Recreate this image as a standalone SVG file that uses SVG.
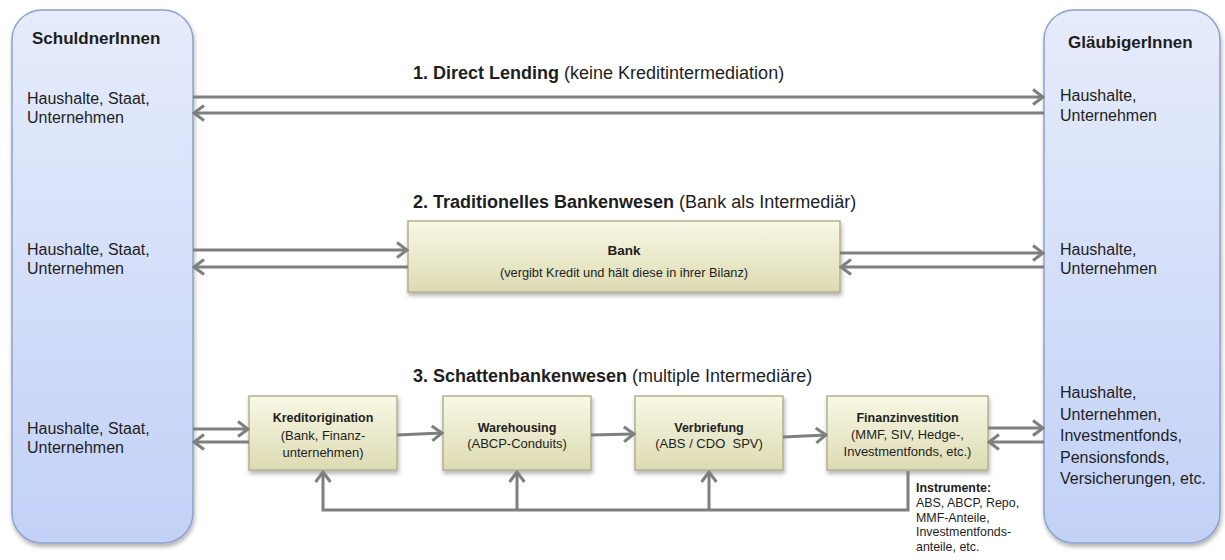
<svg xmlns="http://www.w3.org/2000/svg" width="1225" height="560" viewBox="0 0 1225 560">
<style>
text{font-family:"Liberation Sans",Arial,sans-serif;fill:#1e1e1e}
.big{font-size:16px}
.hdr{font-size:17px;font-weight:bold}
.ttl{font-size:18px}
.b{font-weight:bold}
.bx{font-size:13px;text-anchor:middle}
.bxb{font-size:12.5px;font-weight:bold;text-anchor:middle}
.ins{font-size:12.4px}
.party{fill:url(#gBlue);stroke:#8ea0cc;stroke-width:1.5;filter:url(#sh)}
.inter{fill:url(#gCream);stroke:#b3b18c;stroke-width:1.5;filter:url(#sh)}
.c{fill:none;stroke:#7f7f7f;stroke-width:3}
.a{marker-end:url(#arr)}
</style>
<defs>
<linearGradient id="gBlue" x1="0" y1="0" x2="0" y2="1">
<stop offset="0" stop-color="#e6ecfb"/>
<stop offset="1" stop-color="#c2d1f7"/>
</linearGradient>
<linearGradient id="gCream" x1="0" y1="0" x2="0" y2="1">
<stop offset="0" stop-color="#f8f8e6"/>
<stop offset="1" stop-color="#dddbb3"/>
</linearGradient>
<filter id="sh" x="-10%" y="-10%" width="130%" height="130%">
<feDropShadow dx="1" dy="3" stdDeviation="2" flood-color="#000" flood-opacity="0.3"/>
</filter>
<marker id="arr" viewBox="0 0 14 18" refX="12" refY="9" markerWidth="14" markerHeight="18" orient="auto" markerUnits="userSpaceOnUse">
<path d="M2,1.5 L12,9 L2,16.5" fill="none" stroke="#7f7f7f" stroke-width="3"/>
</marker>
</defs>

<g id="schuldner">
<rect class="party" x="12" y="10" width="181" height="533" rx="30" ry="30"/>
<text class="hdr" x="32" y="44">SchuldnerInnen</text>
<text class="big" x="27" y="103.5">Haushalte, Staat,</text>
<text class="big" x="27" y="122.5">Unternehmen</text>
<text class="big" x="27" y="254.5">Haushalte, Staat,</text>
<text class="big" x="27" y="273.5">Unternehmen</text>
<text class="big" x="27" y="433.5">Haushalte, Staat,</text>
<text class="big" x="27" y="452.5">Unternehmen</text>
</g>

<g id="glaeubiger">
<rect class="party" x="1044" y="10" width="176" height="533" rx="30" ry="30"/>
<text class="hdr" x="1068" y="48">GläubigerInnen</text>
<text class="big" x="1060" y="100.5">Haushalte,</text>
<text class="big" x="1060" y="120.5">Unternehmen</text>
<text class="big" x="1060" y="255">Haushalte,</text>
<text class="big" x="1060" y="274">Unternehmen</text>
<text class="big" x="1060" y="398">Haushalte,</text>
<text class="big" x="1060" y="419.5">Unternehmen,</text>
<text class="big" x="1060" y="441">Investmentfonds,</text>
<text class="big" x="1060" y="462.5">Pensionsfonds,</text>
<text class="big" x="1060" y="484">Versicherungen, etc.</text>
</g>

<g id="titles">
<text class="ttl" x="413" y="79"><tspan class="b">1. Direct Lending</tspan> (keine Kreditintermediation)</text>
<text class="ttl" x="413" y="208"><tspan class="b">2. Traditionelles Bankenwesen</tspan> (Bank als Intermediär)</text>
<text class="ttl" x="413" y="382"><tspan class="b">3. Schattenbankenwesen</tspan> (multiple Intermediäre)</text>
</g>

<g id="bank">
<rect class="inter" x="408" y="221" width="432" height="71"/>
<text class="bxb" x="624" y="255" style="font-size:13.5px">Bank</text>
<text class="bx" x="624" y="276.5" style="font-size:12.8px">(vergibt Kredit und hält diese in ihrer Bilanz)</text>
</g>

<g id="kreditorigination">
<rect class="inter" x="249" y="396" width="148" height="74"/>
<text class="bxb" x="323" y="421.5">Kreditorigination</text>
<text class="bx" x="323" y="439.5">(Bank, Finanz-</text>
<text class="bx" x="323" y="456.5">unternehmen)</text>
</g>

<g id="warehousing">
<rect class="inter" x="443" y="396" width="148" height="74"/>
<text class="bxb" x="517" y="431.5">Warehousing</text>
<text class="bx" x="517" y="447.5">(ABCP-Conduits)</text>
</g>

<g id="verbriefung">
<rect class="inter" x="635" y="396" width="148" height="74"/>
<text class="bxb" x="709" y="431.5">Verbriefung</text>
<text class="bx" x="709" y="447.5">(ABS / CDO&#160; SPV)</text>
</g>

<g id="finanzinvestition">
<rect class="inter" x="827" y="396" width="161" height="74"/>
<text class="bxb" x="907.5" y="421.5">Finanzinvestition</text>
<text class="bx" x="907.5" y="438.5">(MMF, SIV, Hedge-,</text>
<text class="bx" x="907.5" y="455.5">Investmentfonds, etc.)</text>
</g>

<g id="instrumente">
<text class="ins b" x="916" y="492">Instrumente:</text>
<text class="ins" x="916" y="507">ABS, ABCP, Repo,</text>
<text class="ins" x="916" y="521.5">MMF-Anteile,</text>
<text class="ins" x="916" y="536">Investmentfonds-</text>
<text class="ins" x="916" y="550.5">anteile, etc.</text>
</g>

<g id="connectors">
<line class="c a" x1="193" y1="97" x2="1043" y2="97"/>
<line class="c a" x1="1044" y1="113" x2="194" y2="113"/>

<line class="c a" x1="193" y1="250" x2="407" y2="250"/>
<line class="c a" x1="408" y1="267" x2="194" y2="267"/>
<line class="c a" x1="840" y1="253" x2="1043" y2="253"/>
<line class="c a" x1="1044" y1="267" x2="841" y2="267"/>

<line class="c a" x1="193" y1="429" x2="248" y2="429"/>
<line class="c a" x1="249" y1="442" x2="194" y2="442"/>
<line class="c a" x1="397" y1="435" x2="442" y2="433"/>
<line class="c a" x1="591" y1="435" x2="634" y2="434"/>
<line class="c a" x1="783" y1="437" x2="826" y2="435"/>
<line class="c a" x1="988" y1="428" x2="1043" y2="428"/>
<line class="c a" x1="1044" y1="442" x2="989" y2="442"/>

<polyline class="c a" points="908,471 908,510 323,510 323,472"/>
<line class="c a" x1="517" y1="510" x2="517" y2="472"/>
<line class="c a" x1="709" y1="510" x2="709" y2="472"/>
</g>
</svg>
